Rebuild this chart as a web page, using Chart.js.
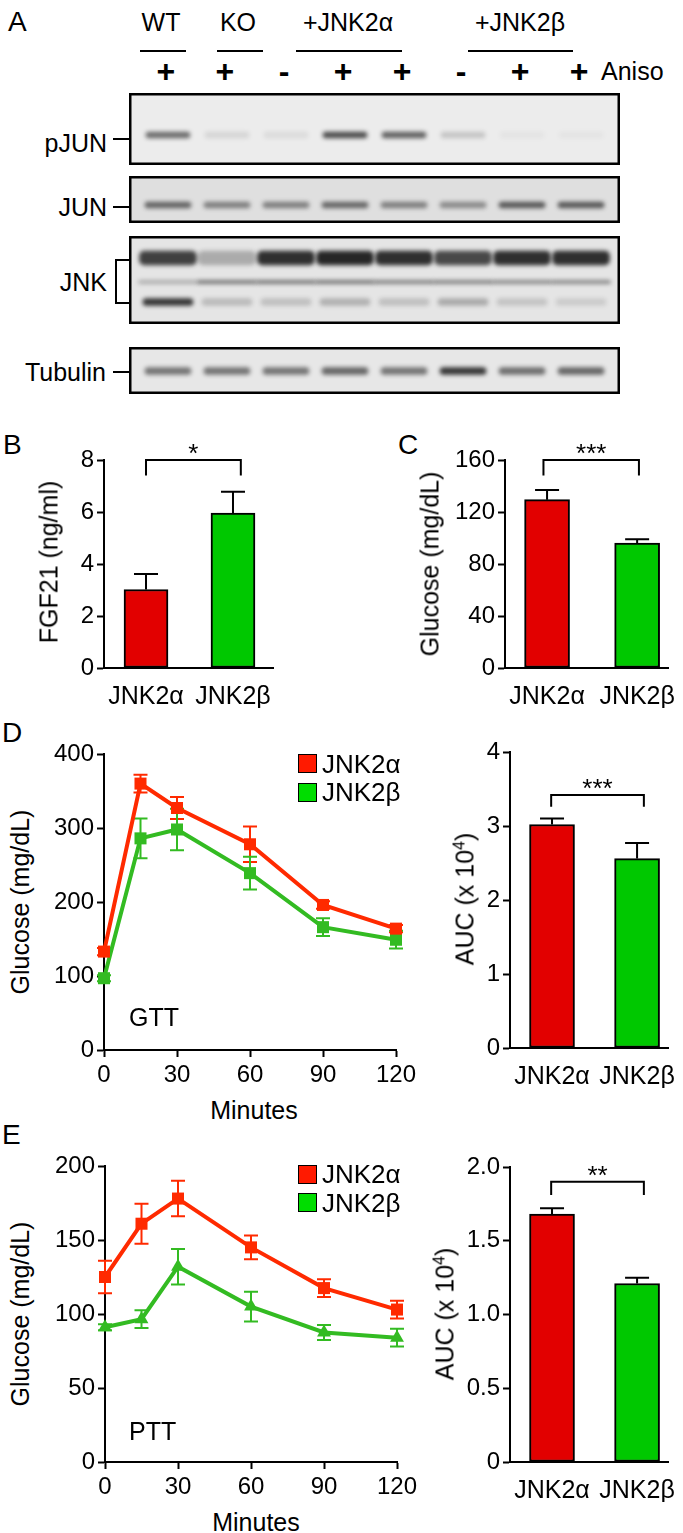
<!DOCTYPE html>
<html><head><meta charset="utf-8">
<script src="https://cdn.jsdelivr.net/npm/chart.js@4.4.1/dist/chart.umd.min.js"></script>
<style>
html,body{margin:0;padding:0;background:#fff;}
body{width:683px;height:1533px;position:relative;overflow:hidden;font-family:"Liberation Sans",Arial,Helvetica,sans-serif;color:#000;}
canvas{position:absolute;}
.t{position:absolute;white-space:nowrap;}
.ln{position:absolute;background:#000;}
.sq{position:absolute;box-sizing:border-box;border:1.5px solid #000;}
</style></head><body>
<script>
// ================= DATA =================
// Panel A: western blot (relative band intensity per lane, 0..1)
const blotGroups   = ['WT','KO','+JNK2α','+JNK2β'];
const anisoLabels  = ['+','+','-','+','+','-','+','+'];
const pJunBand     = [0.60,0.10,0.08,0.75,0.65,0.18,0.04,0.04];
const junBand      = [0.62,0.48,0.48,0.60,0.48,0.42,0.68,0.68];
const jnkUpper     = [0.80,0.28,0.88,0.92,0.88,0.76,0.88,0.88];
const jnkMiddle    = [0.30,0.60,0.60,0.60,0.55,0.55,0.50,0.50];
const jnkLower     = [0.85,0.20,0.18,0.25,0.18,0.28,0.16,0.12];
const tubulinBand  = [0.55,0.55,0.55,0.62,0.55,0.85,0.58,0.62];

// Panels B-E
const genotypes    = ['JNK2α','JNK2β'];
const fgf21Mean    = [3.02, 5.96];
const fgf21Sem     = [0.60, 0.82];
const glucoseMean  = [129.5, 96];
const glucoseSem   = [7.5, 3];
const minutes      = [0, 15, 30, 60, 90, 120];
const gttAlpha     = [133, 360, 327, 278, 196, 164];
const gttAlphaSem  = [5, 12, 15, 24, 5, 5];
const gttBeta      = [97, 286, 298, 239, 166, 149];
const gttBetaSem   = [4, 27, 28, 22, 12, 12];
const gttAuc       = [3.02, 2.56];
const gttAucSem    = [0.08, 0.21];
const pttAlpha     = [125, 161, 178, 145, 117.5, 103];
const pttAlphaSem  = [11, 13.5, 12, 8, 6, 6];
const pttBeta      = [91, 96.5, 132, 105, 87.5, 84];
const pttBetaSem   = [2, 6, 12, 10, 5, 6];
const pttAuc       = [1.68, 1.21];
const pttAucSem    = [0.04, 0.04];
const yTicksB      = [0, 8, 2];
const yTicksC      = [0, 160, 40];
const yTicksGtt    = [0, 400, 100];
const yTicksGttAuc = [0, 4, 1];
const yTicksPtt    = [0, 200, 50];
const yTicksPttAuc = [0, 2, 0.5];
const xTicksTime   = [0, 120, 30];
const sigB = {label:'*',   from:0,     to:1.09, level:8,    leg:7.4};
const sigC = {label:'***', from:-0.04, to:1.02, level:160,  leg:148};
const sigD = {label:'***', from:-0.01, to:1.08, level:3.42, leg:3.26};
const sigE = {label:'**',  from:-0.01, to:1.08, level:1.90, leg:1.81};

// ================= STYLE =================
const FONT = '"Liberation Sans", Arial, Helvetica, sans-serif';
const RED_BAR = '#e20000', GREEN_BAR = '#00c800';
const RED_LINE = '#ff2a00', GREEN_LINE = '#33bb22';
const RED_KEY = '#ff1a00', GREEN_KEY = '#00dd00';
const TICK = 24;
const LAB = 25;

function addText(str, x, yc, size, align, extra) {
  const d = document.createElement('div');
  d.className = 't';
  d.innerHTML = str;
  d.style.fontSize = size + 'px';
  d.style.lineHeight = size + 'px';
  d.style.left = x + 'px';
  d.style.top = (yc - size / 2) + 'px';
  const tx = align === 'center' ? '-50%' : align === 'right' ? '-100%' : '0';
  d.style.transform = 'translateX(' + tx + ')';
  if (extra) Object.assign(d.style, extra);
  document.body.appendChild(d);
  return d;
}
function addVText(str, cx, cy, size) {
  const d = document.createElement('div');
  d.className = 't';
  d.innerHTML = str;
  d.style.fontSize = size + 'px';
  d.style.lineHeight = size + 'px';
  d.style.left = cx + 'px';
  d.style.top = cy + 'px';
  d.style.transform = 'translate(-50%,-50%) rotate(-90deg)';
  document.body.appendChild(d);
}
function addLine(x, y, w, h) {
  const d = document.createElement('div');
  d.className = 'ln';
  Object.assign(d.style, {left: x + 'px', top: y + 'px', width: w + 'px', height: h + 'px'});
  document.body.appendChild(d);
}
function addSquare(x, y, s, color) {
  const d = document.createElement('div');
  d.className = 'sq';
  Object.assign(d.style, {left: x + 'px', top: y + 'px', width: s + 'px', height: s + 'px', background: color});
  document.body.appendChild(d);
}
function mkCanvas(g) {
  const c = document.createElement('canvas');
  const left = g.axisX - g.yw, top = g.top - g.padT;
  const w = Math.round(g.right + g.padR - left), h = Math.round(g.bottom + g.xh - top);
  c.width = w; c.height = h;
  Object.assign(c.style, {left: left + 'px', top: top + 'px', width: w + 'px', height: h + 'px'});
  document.body.appendChild(c);
  return c;
}

// ================= PLUGINS =================
const blotPlugin = {
  id: 'blot',
  beforeDraw(chart, a, o) { const {ctx, width, height} = chart; ctx.save(); ctx.fillStyle = o.bg; ctx.fillRect(0, 0, width, height); ctx.restore(); },
  beforeDatasetsDraw(chart) { chart.ctx.save(); chart.ctx.filter = 'blur(2.2px)'; },
  afterDatasetsDraw(chart) { chart.ctx.restore(); },
  afterDraw(chart) { const {ctx, width, height} = chart; ctx.save(); ctx.strokeStyle = '#000'; ctx.lineWidth = 2.5; ctx.strokeRect(1.25, 1.25, width - 2.5, height - 2.5); ctx.restore(); }
};
const lineErr = {
  id: 'lineErr',
  beforeDatasetsDraw(chart) {
    const {ctx, scales: {x, y}} = chart;
    chart.data.datasets.forEach((ds) => {
      ctx.save(); ctx.strokeStyle = ds.borderColor; ctx.lineWidth = 2;
      ds.data.forEach((p, i) => {
        const px = x.getPixelForValue(p.x);
        const y1 = y.getPixelForValue(p.y + ds.sem[i]), y2 = y.getPixelForValue(p.y - ds.sem[i]);
        ctx.beginPath();
        ctx.moveTo(px, y1); ctx.lineTo(px, y2);
        ctx.moveTo(px - 7, y1); ctx.lineTo(px + 7, y1);
        ctx.moveTo(px - 7, y2); ctx.lineTo(px + 7, y2);
        ctx.stroke();
      });
      ctx.restore();
    });
  }
};
const barErr = {
  id: 'barErr',
  afterDatasetsDraw(chart, a, o) {
    const {ctx, scales: {x, y}} = chart;
    const ds = chart.data.datasets[0];
    ctx.save(); ctx.strokeStyle = '#000'; ctx.lineWidth = 2; ctx.fillStyle = '#000';
    ds.data.forEach((p, i) => {
      const px = x.getPixelForValue(p.x);
      const yb = y.getPixelForValue(p.y), yt = y.getPixelForValue(p.y + ds.sem[i]);
      ctx.beginPath();
      ctx.moveTo(px, yb); ctx.lineTo(px, yt);
      ctx.moveTo(px - 12, yt); ctx.lineTo(px + 12, yt);
      ctx.stroke();
    });
    const s = o.sig;
    if (s) {
      const x0 = x.getPixelForValue(s.from), x1 = x.getPixelForValue(s.to);
      const yl = y.getPixelForValue(s.level), yg = y.getPixelForValue(s.leg);
      ctx.beginPath();
      ctx.moveTo(x0, yg); ctx.lineTo(x0, yl); ctx.lineTo(x1, yl); ctx.lineTo(x1, yg);
      ctx.stroke();
      ctx.font = '26px ' + FONT; ctx.textAlign = 'center'; ctx.textBaseline = 'alphabetic';
      ctx.fillText(s.label, (x0 + x1) / 2, yl + 2);
    }
    ctx.restore();
  }
};

// ================= SCALE HELPERS =================
function yAxis(t, yw, fmt) {
  return {
    type: 'linear', min: t[0], max: t[1],
    ticks: {stepSize: t[2], color: '#000', font: {family: FONT, size: TICK}, padding: 3, callback: fmt || ((v) => String(v))},
    grid: {display: true, drawOnChartArea: false, drawTicks: true, tickLength: 7, tickWidth: 2, tickColor: '#000'},
    border: {display: true, color: '#000', width: 2},
    afterFit(s) { s.width = yw; }
  };
}
function base(g) {
  return {
    responsive: false, animation: false, events: [],
    layout: {padding: {left: 0, top: g.padT, right: g.padR, bottom: 0}},
    plugins: {legend: {display: false}, tooltip: {enabled: false}}
  };
}

// ================= PANEL A (blot) =================
const BLOT_L = 129, BLOT_R = 620;
function blotChart(top, bottom, bg, rows) {
  const g = {axisX: BLOT_L, right: BLOT_R, top: top, bottom: bottom, yw: 0, xh: 0, padT: 0, padR: 0};
  const c = mkCanvas(g);
  const h = bottom - top;
  return new Chart(c, {
    type: 'bar',
    data: {datasets: rows.map((r) => ({
      data: r.vals.map((v, i) => ({x: i, y: [r.c - r.h / 2, r.c + r.h / 2]})),
      backgroundColor: r.vals.map((v) => 'rgba(22,22,22,' + v + ')'),
      barThickness: r.w, borderRadius: Math.min(r.h / 2, 5), borderSkipped: false, grouped: false
    }))},
    options: Object.assign(base({padT: 0, padR: 0}), {
      layout: {padding: 0},
      plugins: {legend: {display: false}, tooltip: {enabled: false}, blot: {bg: bg}},
      scales: {
        x: {type: 'linear', offset: false, min: -0.66, max: 7.66, display: false},
        y: {type: 'linear', min: 0, max: h, reverse: true, display: false}
      }
    }),
    plugins: [blotPlugin]
  });
}
const pjunChart = blotChart(93, 165, '#ececec', [{vals: pJunBand, c: 42, h: 6, w: 44}]);
blotChart(176, 223, '#dfdfdf', [{vals: junBand, c: 29, h: 6, w: 46}]);
blotChart(236, 324, '#e5e5e5', [
  {vals: jnkUpper, c: 22, h: 14, w: 57},
  {vals: jnkMiddle, c: 46, h: 3, w: 59},
  {vals: jnkLower, c: 66, h: 7, w: 50}
]);
blotChart(347, 394, '#e7e7e7', [{vals: tubulinBand, c: 24, h: 7, w: 46}]);

// lane signs positioned from the blot x scale
const laneX = (i) => BLOT_L + pjunChart.scales.x.getPixelForValue(i);
anisoLabels.forEach((s, i) => addText(s, laneX(i) - 2, 71, 32, 'center', {fontWeight: 'bold'}));
addText('Aniso', 601, 71, 25, 'left');
const groupLayout = [[161, 140, 186], [238, 217, 263], [348, 296, 402], [520, 468, 573]];
blotGroups.forEach((gname, i) => {
  const L = groupLayout[i];
  addText(gname, L[0], 22, 25, 'center');
  addLine(L[1], 50, L[2] - L[1], 2);
});
addText('A', 8, 22, 28, 'left');
addText('pJUN', 107, 143, 25, 'right');
addLine(113, 138, 16, 2);
addText('JUN', 107, 207, 25, 'right');
addLine(113, 206, 16, 2);
addText('JNK', 107, 282, 25, 'right');
addLine(115, 259, 2, 45); addLine(115, 259, 14, 2); addLine(115, 302, 14, 2);
addText('Tubulin', 106, 372, 25, 'right');
addLine(113, 371, 16, 2);

// ================= BAR CHARTS =================
function barChart(g, means, sems, yt, sig, xmin, xmax, fmt, bw) {
  const c = mkCanvas(g);
  return new Chart(c, {
    type: 'bar',
    data: {datasets: [{
      data: means.map((m, i) => ({x: i, y: m})), sem: sems,
      backgroundColor: [RED_BAR, GREEN_BAR], borderColor: '#000', borderWidth: 2,
      borderSkipped: false, barThickness: bw
    }]},
    options: Object.assign(base(g), {
      plugins: {legend: {display: false}, tooltip: {enabled: false}, barErr: {sig: sig}},
      scales: {
        x: {
          type: 'linear', offset: false, min: xmin, max: xmax,
          afterBuildTicks(s) { s.ticks = genotypes.map((n, i) => ({value: i})); },
          ticks: {color: '#000', font: {family: FONT, size: LAB}, padding: 6, autoSkip: false, maxRotation: 0, callback: (v) => genotypes[v]},
          grid: {display: false, offset: false}, border: {display: true, color: '#000', width: 2},
          afterFit(s) { s.height = g.xh; }
        },
        y: yAxis(yt, g.yw, fmt)
      }
    }),
    plugins: [barErr]
  });
}
barChart({axisX: 104, right: 273, top: 460, bottom: 668, yw: 50, xh: 40, padT: 20, padR: 12},
  fgf21Mean, fgf21Sem, yTicksB, sigB, -0.483, 1.46, null, 44);
barChart({axisX: 505, right: 672, top: 460, bottom: 668, yw: 65, xh: 40, padT: 20, padR: 11},
  glucoseMean, glucoseSem, yTicksC, sigC, -0.467, 1.348, null, 45);
barChart({axisX: 510, right: 672, top: 752, bottom: 1048, yw: 38, xh: 40, padT: 20, padR: 11},
  gttAuc, gttAucSem, yTicksGttAuc, sigD, -0.494, 1.368, null, 45);
barChart({axisX: 510, right: 672, top: 1167, bottom: 1462, yw: 55, xh: 40, padT: 20, padR: 11},
  pttAuc, pttAucSem, yTicksPttAuc, sigE, -0.494, 1.368, (v) => v === 0 ? '0' : v.toFixed(1), 45);

// ================= LINE CHARTS =================
function lineChart(g, a, aSem, b, bSem, yt, bStyle) {
  const c = mkCanvas(g);
  const mk = (vals, sem, color, style, label) => ({
    label: label, data: minutes.map((m, i) => ({x: m, y: vals[i]})), sem: sem,
    borderColor: color, backgroundColor: color, borderWidth: 4, tension: 0, clip: false,
    pointStyle: style, pointRadius: style === 'triangle' ? 8 : 8.5, pointBorderWidth: 0, pointBackgroundColor: color
  });
  return new Chart(c, {
    type: 'line',
    data: {datasets: [mk(a, aSem, RED_LINE, 'rect', genotypes[0]), mk(b, bSem, GREEN_LINE, bStyle, genotypes[1])]},
    options: Object.assign(base(g), {
      scales: {
        x: {
          type: 'linear', min: xTicksTime[0], max: xTicksTime[1],
          ticks: {stepSize: xTicksTime[2], color: '#000', font: {family: FONT, size: TICK}, padding: 4},
          grid: {display: true, drawOnChartArea: false, drawTicks: true, tickLength: 7, tickWidth: 2, tickColor: '#000'},
          border: {display: true, color: '#000', width: 2},
          afterFit(s) { s.height = g.xh; }
        },
        y: yAxis(yt, g.yw)
      }
    }),
    plugins: [lineErr]
  });
}
lineChart({axisX: 104, right: 396, top: 754, bottom: 1050, yw: 60, xh: 45, padT: 20, padR: 30},
  gttAlpha, gttAlphaSem, gttBeta, gttBetaSem, yTicksGtt, 'rect');
lineChart({axisX: 105, right: 397, top: 1166, bottom: 1462, yw: 60, xh: 45, padT: 20, padR: 30},
  pttAlpha, pttAlphaSem, pttBeta, pttBetaSem, yTicksPtt, 'triangle');

// ================= LABELS =================
addText('B', 3, 445, 28, 'left');
addText('C', 398, 445, 28, 'left');
addText('D', 2, 733, 28, 'left');
addText('E', 2, 1135, 28, 'left');
addVText('FGF21 (ng/ml)', 49, 562, LAB);
addVText('Glucose (mg/dL)', 430, 564, LAB);
addVText('Glucose (mg/dL)', 20, 902, LAB);
addVText('AUC (x 10<sup style="font-size:16px;line-height:0">4</sup>)', 465, 899, LAB);
addVText('Glucose (mg/dL)', 20, 1314, LAB);
addVText('AUC (x 10<sup style="font-size:16px;line-height:0">4</sup>)', 445, 1314, LAB);
addText('Minutes', 254, 1110, LAB, 'center');
addText('Minutes', 256, 1522, LAB, 'center');
addText('GTT', 129, 1017, LAB, 'left');
addText('PTT', 129, 1431, LAB, 'left');
// legends
addSquare(298, 754, 19, RED_KEY);  addText(genotypes[0], 322, 764, 26, 'left');
addSquare(298, 783, 19, GREEN_KEY); addText(genotypes[1], 322, 792, 26, 'left');
addSquare(298, 1165, 19, RED_KEY);  addText(genotypes[0], 322, 1174, 26, 'left');
addSquare(298, 1193, 19, GREEN_KEY); addText(genotypes[1], 322, 1203, 26, 'left');
</script>
</body></html>
